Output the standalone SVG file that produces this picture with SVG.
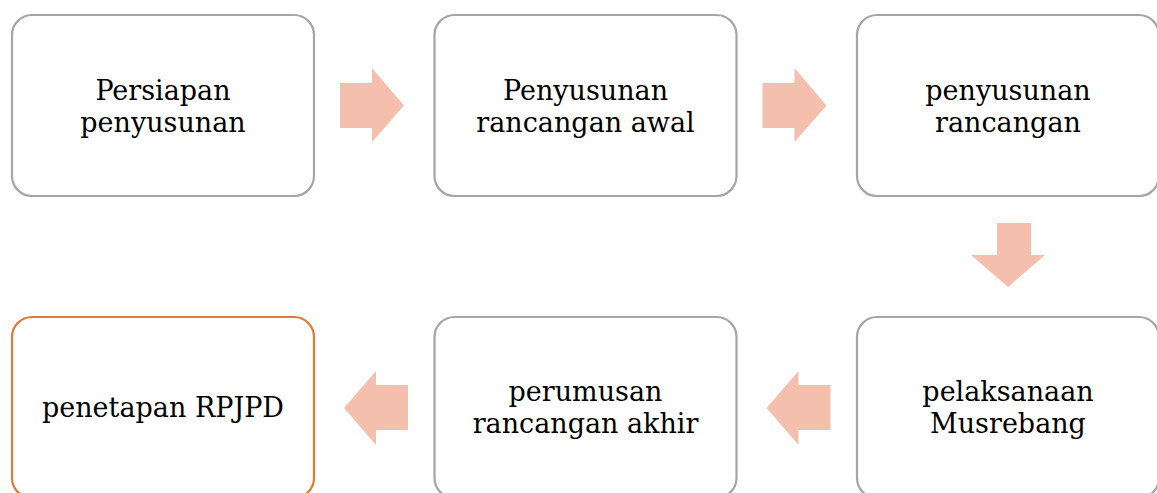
<svg xmlns="http://www.w3.org/2000/svg" width="1157" height="493" viewBox="0 0 1157 493">
<style>
.box{fill:#ffffff;stroke:#a5a5a5;stroke-width:2.2}
.last{fill:#ffffff;stroke:#e07a37;stroke-width:2.2}
.arr{fill:#f4c0ad}
text{font-family:"DejaVu Serif","Liberation Serif",serif;font-size:27px;fill:#000;text-anchor:middle}
</style>
<rect width="1157" height="493" fill="#ffffff"/>
<g id="connectors">
<polygon class="arr" points="340,83 372,83 372,68 404,105.5 372,142 372,128 340,128"/>
<polygon class="arr" points="762.5,83 794.5,83 794.5,68 826.5,105.5 794.5,142 794.5,128 762.5,128"/>
<polygon class="arr" points="997,223 1031,223 1031,255 1045,255 1008,287 971,255 997,255"/>
<polygon class="arr" points="830.5,385 798.5,385 798.5,371 766.5,408 798.5,445 798.5,430 830.5,430"/>
<polygon class="arr" points="408,385 376,385 376,371 344,408 376,445 376,430 408,430"/>
</g>
<g id="node1"><rect class="box" x="12" y="15" width="302" height="181" rx="20"/><text x="163" y="100">Persiapan</text><text x="163" y="132">penyusunan</text></g>
<g id="node2"><rect class="box" x="434.5" y="15" width="302" height="181" rx="20"/><text x="585.5" y="100">Penyusunan</text><text x="585.5" y="132">rancangan awal</text></g>
<g id="node3"><rect class="box" x="857" y="15" width="302" height="181" rx="20"/><text x="1008" y="100">penyusunan</text><text x="1008" y="132">rancangan</text></g>
<g id="node4"><rect class="box" x="857" y="317" width="302" height="181" rx="20"/><text x="1008" y="401">pelaksanaan</text><text x="1008" y="433">Musrebang</text></g>
<g id="node5"><rect class="box" x="434.5" y="317" width="302" height="181" rx="20"/><text x="585.5" y="401">perumusan</text><text x="585.5" y="433">rancangan akhir</text></g>
<g id="node6"><rect class="last" x="12" y="317" width="302" height="181" rx="20"/><text x="163" y="417">penetapan RPJPD</text></g>
</svg>
